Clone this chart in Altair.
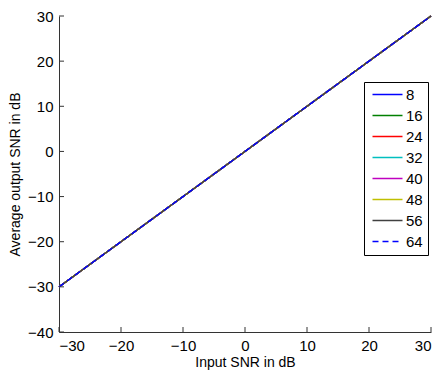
import altair as alt
import pandas as pd

# Input SNR (dB) sample points and the averaged output SNR for each setting
input_snr = [-30, -20, -10, 0, 10, 20, 30]
series_names = ["8", "16", "24", "32", "40", "48", "56", "64"]
out_8 = [-30, -20, -10, 0, 10, 20, 30]
out_16 = [-30, -20, -10, 0, 10, 20, 30]
out_24 = [-30, -20, -10, 0, 10, 20, 30]
out_32 = [-30, -20, -10, 0, 10, 20, 30]
out_40 = [-30, -20, -10, 0, 10, 20, 30]
out_48 = [-30, -20, -10, 0, 10, 20, 30]
out_56 = [-30, -20, -10, 0, 10, 20, 30]
out_64 = [-30, -20, -10, 0, 10, 20, 30]
outputs = [out_8, out_16, out_24, out_32, out_40, out_48, out_56, out_64]

line_colors = ["#0000ff", "#008000", "#ff0000", "#00bfbf",
               "#bf00bf", "#bfbf00", "#404040", "#0000ff"]
line_dashes = [[1, 0]] * 7 + [[6, 4]]

x_ticks = [-30, -20, -10, 0, 10, 20, 30]
y_ticks = [-40, -30, -20, -10, 0, 10, 20, 30]

rows = []
for k, (name, ys) in enumerate(zip(series_names, outputs)):
    for xv, yv in zip(input_snr, ys):
        rows.append({"x": xv, "y": yv, "series": name, "k": k})
df = pd.DataFrame(rows)

W, H = 372, 316
axis_color = "#333333"
font = "Liberation Sans"

x_scale = alt.Scale(domain=[-30, 30], nice=False, zero=False)
y_scale = alt.Scale(domain=[-40, 30], nice=False, zero=False)

lines = alt.Chart(df).mark_line(strokeWidth=1.4).encode(
    x=alt.X("x:Q", scale=x_scale,
            axis=alt.Axis(values=x_ticks, title="Input SNR in dB", tickSize=0,
                          labelPadding=6, titlePadding=2, grid=False,
                          format="d")),
    y=alt.Y("y:Q", scale=y_scale,
            axis=alt.Axis(values=y_ticks, title="Average output SNR in dB",
                          tickSize=0, labelPadding=6, titlePadding=5,
                          grid=False, format="d")),
    color=alt.Color("series:N", sort=series_names,
                    scale=alt.Scale(domain=series_names, range=line_colors),
                    legend=alt.Legend(title=None)),
    strokeDash=alt.StrokeDash("series:N", sort=series_names,
                              scale=alt.Scale(domain=series_names, range=line_dashes),
                              legend=alt.Legend(title=None)),
    order=alt.Order("k:Q"),
)

# Inward-pointing tick marks on both axes
x_tick_df = pd.DataFrame({"x": x_ticks})
y_tick_df = pd.DataFrame({"y": y_ticks})
x_tick_marks = alt.Chart(x_tick_df).mark_rule(color=axis_color, strokeWidth=1).encode(
    x=alt.X("x:Q", scale=x_scale), y=alt.value(H), y2=alt.value(H - 5))
y_tick_marks = alt.Chart(y_tick_df).mark_rule(color=axis_color, strokeWidth=1).encode(
    y=alt.Y("y:Q", scale=y_scale), x=alt.value(0), x2=alt.value(5))

chart = alt.layer(lines, x_tick_marks, y_tick_marks).properties(
    width=W, height=H,
    autosize=alt.AutoSizeParams(type="none"),
    padding={"left": 59, "top": 16, "right": 9, "bottom": 39},
).configure_view(stroke=None).configure_axis(
    domainColor=axis_color, labelColor="#000000", titleColor="#000000",
    labelFont=font, titleFont=font, labelFontSize=15, titleFontSize=14,
    titleFontWeight="normal",
).configure_legend(
    orient="none", legendX=305, legendY=66,
    strokeColor="#000000", fillColor="#ffffff",
    padding=5, symbolType="M-3,0H3", symbolSize=100, symbolStrokeWidth=1.5,
    labelFont=font, labelFontSize=15, labelColor="#000000",
    rowPadding=5, labelOffset=11, symbolOffset=11,
)

chart.save("out.html", embed_options={"renderer": "svg", "actions": False})
